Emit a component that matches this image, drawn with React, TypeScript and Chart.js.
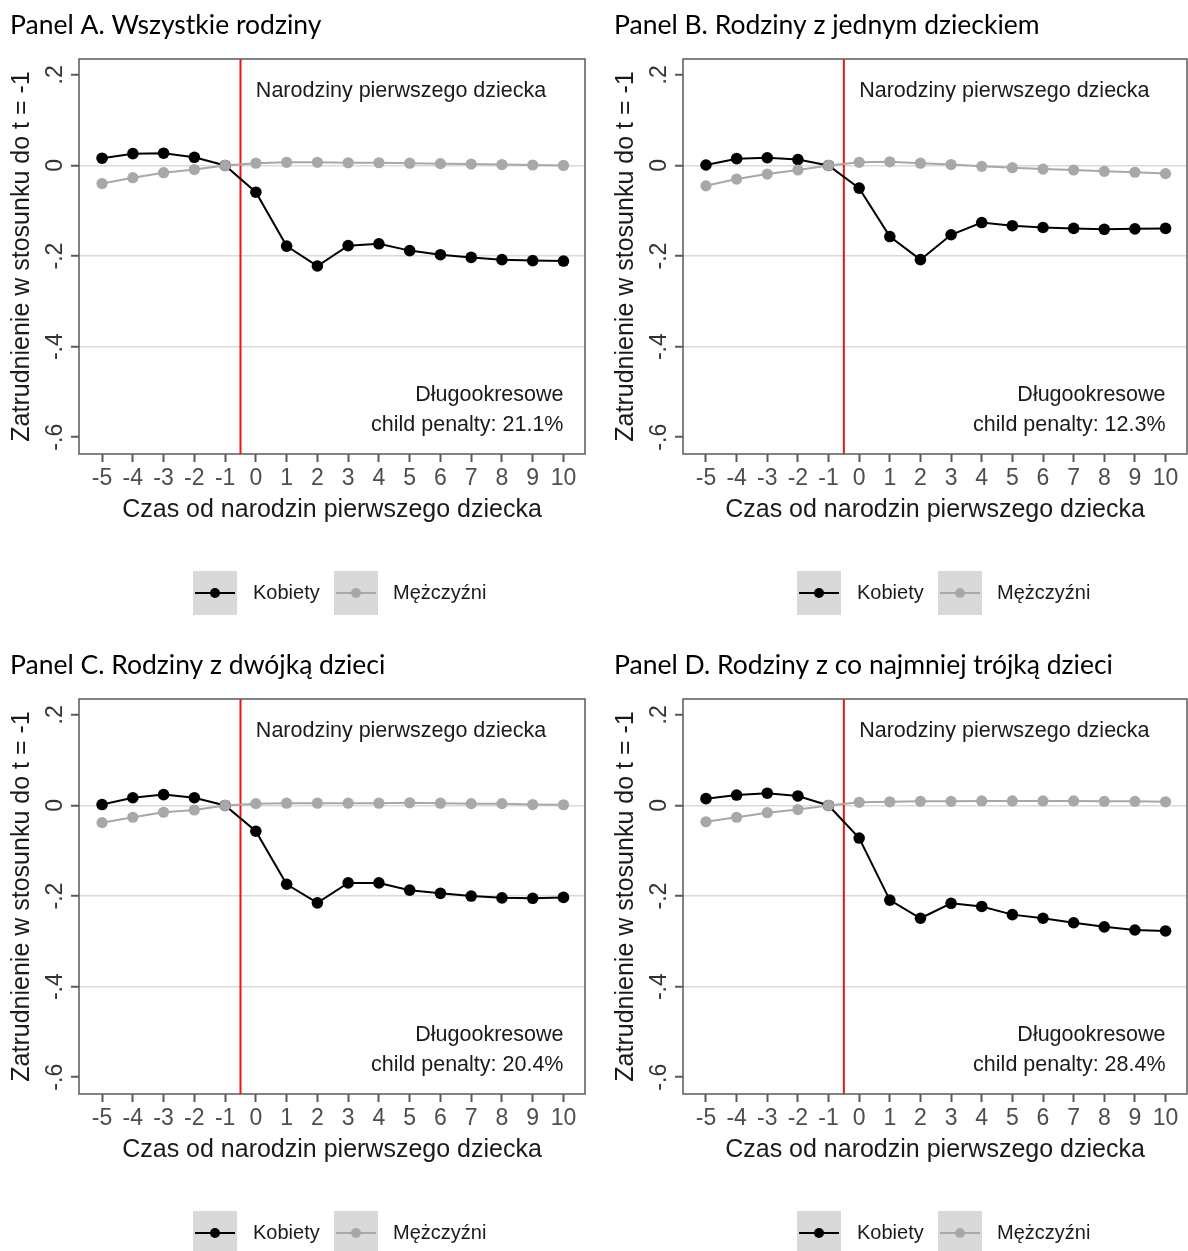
import React, { useEffect, useRef } from "react";
import { Chart, registerables } from "chart.js";

Chart.register(...registerables);

// ---------- data ----------
const years = [-5, -4, -3, -2, -1, 0, 1, 2, 3, 4, 5, 6, 7, 8, 9, 10];
const yTickValues = [0.2, 0, -0.2, -0.4, -0.6];
const yGridValues = [0, -0.2, -0.4];

const womenA = [0.016, 0.026, 0.027, 0.018, 0, -0.059, -0.178, -0.222, -0.177, -0.173, -0.188, -0.197, -0.203, -0.208, -0.21, -0.211];
const menA = [-0.04, -0.027, -0.016, -0.009, 0, 0.005, 0.007, 0.007, 0.006, 0.006, 0.005, 0.004, 0.003, 0.002, 0.001, 0.0];

const womenB = [0.001, 0.015, 0.017, 0.013, 0, -0.05, -0.157, -0.208, -0.153, -0.126, -0.133, -0.137, -0.139, -0.141, -0.14, -0.139];
const menB = [-0.045, -0.03, -0.019, -0.01, 0, 0.007, 0.008, 0.005, 0.002, -0.002, -0.005, -0.008, -0.01, -0.013, -0.015, -0.018];

const womenC = [0.002, 0.017, 0.024, 0.017, 0, -0.057, -0.174, -0.215, -0.171, -0.171, -0.187, -0.194, -0.2, -0.204, -0.205, -0.203];
const menC = [-0.038, -0.026, -0.015, -0.01, 0, 0.004, 0.005, 0.005, 0.005, 0.005, 0.006, 0.005, 0.004, 0.004, 0.002, 0.0015];

const womenD = [0.015, 0.023, 0.027, 0.021, 0, -0.072, -0.209, -0.249, -0.216, -0.223, -0.241, -0.249, -0.259, -0.268, -0.275, -0.277];
const menD = [-0.036, -0.026, -0.016, -0.009, 0, 0.007, 0.008, 0.009, 0.009, 0.01, 0.01, 0.01, 0.01, 0.009, 0.009, 0.008];

const panelTitles = [
  "Panel A. Wszystkie rodziny",
  "Panel B. Rodziny z jednym dzieckiem",
  "Panel C. Rodziny z dwójką dzieci",
  "Panel D. Rodziny z co najmniej trójką dzieci",
];
const penalties = ["21.1%", "12.3%", "20.4%", "28.4%"];
const seriesLabels = ["Kobiety", "Mężczyźni"];

const xTitle = "Czas od narodzin pierwszego dziecka";
const yTitle = "Zatrudnienie w stosunku do t = -1";
const eventLabel = "Narodziny pierwszego dziecka";
const longRunLabel = "Długookresowe";
const penaltyPrefix = "child penalty: ";

const EVENT_X = -0.5;
const X_MIN = -5.75;
const X_MAX = 10.7;
const Y_MIN = -0.637;
const Y_MAX = 0.235;

// ---------- styles ----------
const BLACK = "#000000";
const GREY = "#a8a8a8";
const RED = "rgb(235,20,24)";
const AXIS = "#5a5a5a";
const GRID = "#d9d9d9";
const SANS = "'Liberation Sans', Arial, sans-serif";
const LATO = "Lato, 'Noto Sans', sans-serif";

const PANEL_W = 604;
const PANEL_H = 640;

function fmtY(v: number): string {
  if (v === 0) return "0";
  const s = v.toFixed(1);
  return s.replace("0.", ".");
}

type PanelProps = {
  left: number;
  top: number;
  rightPad: number;
  title: string;
  penalty: string;
  women: number[];
  men: number[];
};

function Panel({ left, top, rightPad, title, penalty, women, men }: PanelProps) {
  const ref = useRef<HTMLCanvasElement | null>(null);

  useEffect(() => {
    if (!ref.current) return;
    const decor = {
      id: "decor",
      beforeDatasetsDraw(chart: any) {
        const { ctx, chartArea, scales } = chart;
        const px = scales.x.getPixelForValue(EVENT_X);
        ctx.save();
        ctx.strokeStyle = RED;
        ctx.lineWidth = 2;
        ctx.beginPath();
        ctx.moveTo(px, chartArea.top);
        ctx.lineTo(px, chartArea.bottom);
        ctx.stroke();
        ctx.restore();
      },
      afterDatasetsDraw(chart: any) {
        const { ctx, scales } = chart;
        ctx.save();
        ctx.fillStyle = "#1a1a1a";
        ctx.font = `21.5px ${SANS}`;
        ctx.textBaseline = "middle";
        ctx.textAlign = "left";
        ctx.fillText(eventLabel, scales.x.getPixelForValue(0), scales.y.getPixelForValue(0.165));
        ctx.textAlign = "right";
        const xr = scales.x.getPixelForValue(10);
        ctx.fillText(longRunLabel, xr, scales.y.getPixelForValue(-0.506));
        ctx.fillText(penaltyPrefix + penalty, xr, scales.y.getPixelForValue(-0.574));
        ctx.restore();
      },
      afterDraw(chart: any) {
        const { ctx, chartArea } = chart;
        ctx.save();
        // plot border
        ctx.strokeStyle = AXIS;
        ctx.lineWidth = 1.5;
        ctx.strokeRect(chartArea.left, chartArea.top, chartArea.right - chartArea.left, chartArea.bottom - chartArea.top);
        // panel title
        ctx.fillStyle = "#000";
        ctx.font = `26.5px ${LATO}`;
        ctx.textAlign = "left";
        ctx.textBaseline = "alphabetic";
        ctx.fillText(title, 10, 34);
        // legend
        const ds = chart.data.datasets;
        const boxes = [193, 334];
        const labelsX = [253, 393];
        const by = 571;
        const bs = 44;
        ds.forEach((d: any, i: number) => {
          const bx = boxes[i];
          ctx.fillStyle = "#d9d9d9";
          ctx.fillRect(bx, by, bs, bs);
          ctx.strokeStyle = d.borderColor;
          ctx.lineWidth = 2;
          ctx.beginPath();
          ctx.moveTo(bx + 2, by + bs / 2);
          ctx.lineTo(bx + bs - 2, by + bs / 2);
          ctx.stroke();
          ctx.fillStyle = d.pointBackgroundColor;
          ctx.beginPath();
          ctx.arc(bx + bs / 2, by + bs / 2, 5, 0, Math.PI * 2);
          ctx.fill();
          ctx.fillStyle = "#1a1a1a";
          ctx.font = `20px ${SANS}`;
          ctx.textBaseline = "middle";
          ctx.fillText(d.label, labelsX[i], by + bs / 2);
        });
        ctx.restore();
      },
    };

    const tickFont = { family: SANS, size: 23 };
    const titleFont = { family: SANS, size: 25 };

    const chart = new Chart(ref.current, {
      type: "line",
      data: {
        datasets: [
          {
            label: seriesLabels[0],
            data: years.map((t, i) => ({ x: t, y: women[i] })),
            borderColor: BLACK,
            backgroundColor: BLACK,
            pointBackgroundColor: BLACK,
            pointBorderColor: BLACK,
            pointRadius: 5.8,
            pointBorderWidth: 0,
            borderWidth: 2,
            tension: 0,
            order: 2,
          },
          {
            label: seriesLabels[1],
            data: years.map((t, i) => ({ x: t, y: men[i] })),
            borderColor: GREY,
            backgroundColor: GREY,
            pointBackgroundColor: GREY,
            pointBorderColor: GREY,
            pointRadius: 5.6,
            pointBorderWidth: 0,
            borderWidth: 2,
            tension: 0,
            order: 1,
          },
        ],
      },
      options: {
        animation: false,
        responsive: false,
        devicePixelRatio: 1,
        events: [],
        layout: { padding: { left: 0, top: 59, right: rightPad, bottom: PANEL_H - 454 - 71 } },
        plugins: {
          legend: { display: false },
          title: { display: false },
          tooltip: { enabled: false },
        },
        scales: {
          x: {
            type: "linear",
            min: X_MIN,
            max: X_MAX,
            afterBuildTicks: (s: any) => {
              s.ticks = years.map((v) => ({ value: v }));
            },
            afterFit: (s: any) => {
              s.height = 71;
            },
            grid: { drawOnChartArea: false, drawTicks: true, tickLength: 8, tickWidth: 2, tickColor: AXIS },
            border: { display: false },
            ticks: {
              autoSkip: false,
              maxRotation: 0,
              minRotation: 0,
              padding: 3,
              font: tickFont,
              color: "#4d4d4d",
              callback: (v: any) => String(v),
            },
            title: { display: true, text: xTitle, font: titleFont, color: "#1a1a1a", padding: { top: 0, bottom: 0 } },
          },
          y: {
            type: "linear",
            min: Y_MIN,
            max: Y_MAX,
            afterBuildTicks: (s: any) => {
              s.ticks = yTickValues.map((v) => ({ value: v }));
            },
            afterFit: (s: any) => {
              s.width = 79;
            },
            grid: {
              color: (c: any) => (c.tick && yGridValues.some((g) => Math.abs(g - c.tick.value) < 1e-9) ? GRID : "rgba(0,0,0,0)"),
              lineWidth: 1.5,
              drawTicks: true,
              tickLength: 8,
              tickWidth: 2,
              tickColor: AXIS,
            },
            border: { display: false },
            ticks: {
              minRotation: 90,
              maxRotation: 90,
              crossAlign: "center",
              padding: 2,
              font: tickFont,
              color: "#333333",
              callback: (v: any) => fmtY(Number(v)),
            },
            title: { display: true, text: yTitle, font: titleFont, color: "#1a1a1a", padding: { top: 7, bottom: 0 } },
          },
        },
      },
      plugins: [decor],
    } as any);

    return () => chart.destroy();
  }, [left, top, rightPad, title, penalty, women, men]);

  return (
    <div style={{ position: "absolute", left, top, width: PANEL_W, height: PANEL_H }}>
      <canvas ref={ref} width={PANEL_W} height={PANEL_H} style={{ width: PANEL_W, height: PANEL_H, display: "block" }} />
    </div>
  );
}

export default function App() {
  return (
    <div
      style={{
        position: "absolute",
        left: 0,
        top: 0,
        width: 1188,
        height: 1251,
        overflow: "hidden",
        background: "#ffffff",
      }}
    >
      <Panel left={0} top={0} rightPad={19} title={panelTitles[0]} penalty={penalties[0]} women={womenA} men={menA} />
      <Panel left={604} top={0} rightPad={21} title={panelTitles[1]} penalty={penalties[1]} women={womenB} men={menB} />
      <Panel left={0} top={640} rightPad={19} title={panelTitles[2]} penalty={penalties[2]} women={womenC} men={menC} />
      <Panel left={604} top={640} rightPad={21} title={panelTitles[3]} penalty={penalties[3]} women={womenD} men={menD} />
    </div>
  );
}
